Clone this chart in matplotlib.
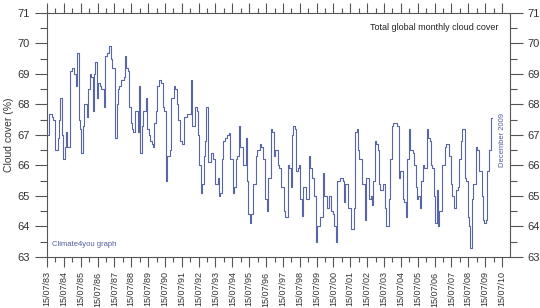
import matplotlib
matplotlib.use("Agg")
import matplotlib.pyplot as plt
import matplotlib.dates as mdates
from datetime import datetime

plt.rcParams['font.family'] = ['Liberation Sans', 'DejaVu Sans']

# monthly global cloud cover (%), Jul 1983 - Dec 2009
cloud_cover = [
    67.0, 67.0, 67.7, 67.7, 67.6, 67.5,                                  # 1983
    66.5, 66.5, 66.9, 67.5, 68.2, 67.0, 66.2, 66.6, 67.1, 66.6, 66.6, 69.1,  # 1984
    69.2, 69.2, 69.0, 68.6, 69.7, 67.5, 67.2, 66.4, 67.3, 68.0, 68.0, 67.6,  # 1985
    68.5, 69.0, 68.9, 67.8, 69.0, 69.4, 68.2, 68.7, 68.6, 68.5, 68.5, 67.9,  # 1986
    69.6, 69.7, 69.7, 69.9, 69.5, 69.2, 69.2, 66.9, 68.0, 68.5, 68.6, 68.8,  # 1987
    68.8, 68.9, 69.6, 69.2, 69.1, 67.9, 67.4, 67.2, 67.1, 67.8, 67.8, 67.1,  # 1988
    68.6, 66.4, 67.3, 67.8, 67.8, 68.2, 67.2, 67.0, 66.8, 66.7, 66.6, 67.4,  # 1989
    67.8, 68.6, 68.8, 68.8, 68.7, 67.9, 67.8, 65.5, 66.3, 66.3, 66.5, 68.2,  # 1990
    68.2, 68.6, 68.5, 68.0, 67.5, 66.8, 66.8, 66.7, 67.6, 67.6, 67.7, 67.7,  # 1991
    67.7, 68.8, 67.3, 67.3, 67.9, 67.8, 67.0, 66.0, 65.1, 65.4, 66.3, 66.8,  # 1992
    67.9, 66.1, 66.1, 66.4, 66.4, 66.2, 65.4, 65.4, 65.6, 65.0, 65.1, 66.2,  # 1993
    66.8, 66.9, 66.9, 67.0, 67.05, 66.2, 66.2, 65.1, 65.3, 66.2, 66.3, 67.3,  # 1994
    66.6, 66.6, 66.0, 66.0, 66.9, 65.5, 64.4, 64.1, 64.4, 65.4, 65.4, 66.3,  # 1995
    66.5, 66.5, 66.7, 66.6, 66.2, 66.2, 64.9, 64.5, 65.6, 65.6, 67.2, 67.1,  # 1996
    66.3, 66.5, 66.5, 66.0, 65.9, 65.3, 65.3, 64.5, 64.3, 64.3, 66.0, 65.9,  # 1997
    65.3, 67.0, 67.3, 67.2, 65.8, 65.9, 66.0, 64.9, 64.35, 65.3, 65.3, 64.9,  # 1998
    64.9, 66.3, 65.9, 65.6, 65.6, 65.0, 63.5, 64.0, 64.0, 64.3, 64.3, 65.75,  # 1999
    65.0, 65.0, 64.6, 65.0, 65.0, 64.5, 64.4, 64.0, 63.5, 65.5, 65.5, 65.6,  # 2000
    65.6, 65.5, 64.8, 65.4, 65.4, 64.6, 64.6, 63.9, 63.9, 64.6, 67.1, 67.2,  # 2001
    66.5, 66.2, 66.2, 65.4, 65.4, 64.2, 65.6, 65.6, 64.9, 65.0, 64.7, 65.5,  # 2002
    66.8, 66.7, 66.5, 65.4, 65.2, 65.2, 65.4, 64.6, 64.0, 64.0, 64.9, 66.2,  # 2003
    67.3, 67.4, 67.4, 67.4, 67.3, 65.6, 65.8, 65.8, 64.9, 64.8, 64.3, 66.2,  # 2004
    67.2, 66.5, 66.5, 66.4, 66.0, 65.3, 64.9, 65.0, 64.6, 65.5, 66.0, 65.9,  # 2005
    65.9, 67.2, 66.9, 66.8, 66.0, 65.9, 65.0, 64.1, 65.2, 64.0, 64.5, 64.5,  # 2006
    66.0, 66.0, 66.6, 66.7, 66.7, 66.3, 65.4, 65.0, 64.6, 64.6, 65.2, 65.3,  # 2007
    66.2, 66.8, 67.2, 67.2, 65.6, 65.5, 64.3, 64.0, 63.3, 64.9, 65.4, 65.4,  # 2008
    66.6, 66.5, 65.8, 65.8, 65.0, 64.2, 64.1, 64.2, 65.8, 66.5, 66.5, 67.55,  # 2009
]

dates = [datetime(1983 + (6 + i) // 12, (6 + i) % 12 + 1, 15) for i in range(len(cloud_cover))]

fig = plt.figure(figsize=(5.4, 3.08), dpi=100)
ax = fig.add_axes([0.087, 0.166, 0.857, 0.792])

ax.plot(dates, cloud_cover, drawstyle='steps-mid', color='#5866a8', lw=0.8)

ax.set_xlim(datetime(1983, 7, 15), datetime(2011, 1, 1))
ax.set_ylim(63, 71)

ax.xaxis.set_major_locator(mdates.YearLocator(1, month=7, day=15))
ax.xaxis.set_minor_locator(mdates.YearLocator(1, month=1, day=15))
ax.xaxis.set_major_formatter(mdates.DateFormatter('%d/%m/%y'))
ax.set_yticks(range(63, 72))
ax.set_yticks([v + 0.5 for v in range(63, 71)], minor=True)

for s in ax.spines.values():
    s.set_color('#555555')
    s.set_linewidth(0.8)

ax.tick_params(axis='x', which='both', direction='out', top=True, bottom=True,
               labelsize=6.5, rotation=90, colors='#555555', labelcolor='#333333')
ax.tick_params(axis='x', which='major', length=7, width=0.8)
ax.tick_params(axis='x', which='minor', length=3.5, width=0.8)
ax.tick_params(axis='y', which='both', direction='out', left=True, right=True,
               labelright=True, labelsize=8, colors='#555555', labelcolor='#333333')
ax.tick_params(axis='y', which='major', length=9, width=0.8)
ax.tick_params(axis='y', which='minor', length=5, width=0.8)

ax.set_ylabel('Cloud cover (%)', fontsize=7.5, color='#333333', labelpad=2)

ax.text(0.975, 0.96, 'Total global monthly cloud cover', transform=ax.transAxes,
        fontsize=6.5, ha='right', va='top', color='#222222')
ax.text(0.01, 0.035, 'Climate4you graph', transform=ax.transAxes,
        fontsize=5.5, ha='left', va='bottom', color='#4f5c9e')
ax.text(0.985, 0.48, 'December 2009', transform=ax.transAxes, rotation=90,
        fontsize=5.5, ha='center', va='center', color='#4f5c9e')

fig.savefig('out.png', dpi=100)
